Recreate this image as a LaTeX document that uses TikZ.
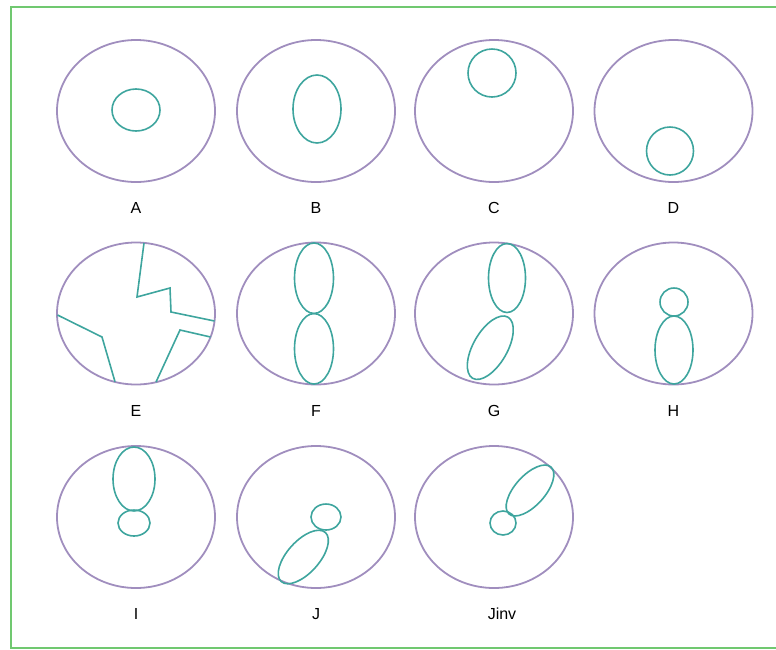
\documentclass[tikz,border=0pt]{standalone}
\usepackage{fontspec}
\setmainfont{Liberation Sans}
\usepackage{xcolor}
\usepackage{tikz}
\usetikzlibrary{shapes.geometric, positioning, calc}
\definecolor{FramePurple}{RGB}{160, 142, 190}
\definecolor{CellTeal}{RGB}{62, 165, 158}
\definecolor{FrameGreen}{RGB}{112, 200, 112}

\tikzset{
  outer/.style={ellipse, draw=FramePurple, line width=1.8pt,
    minimum width=158pt, minimum height=142pt, inner sep=0pt},
  cell/.style={ellipse, draw=CellTeal, line width=1.6pt, inner sep=0pt},
  crack/.style={draw=CellTeal, line width=1.6pt, line join=miter},
  lbl/.style={font=\fontsize{16}{18}\selectfont, text height=11.5pt,
    text depth=0pt, inner sep=0pt}
}

\begin{document}
\begin{tikzpicture}[x=1pt, y=1pt]
    \useasboundingbox (0,0) rectangle (776,-649);
    \draw[FrameGreen, line width=2pt] (10.5,-6.5) rectangle (790,-648);

    % outer ovals
    \foreach \name/\x/\y in {A/136/111, B/316/111, C/494/111, D/673.5/111,
        E/136/313.5, F/316/313.5, G/494/313.5, H/673.5/313.5,
        I/136/517, J/316/517, Jinv/494/517}
      \node[outer] (\name) at (\x,-\y) {};

    % captions
    \foreach \name in {A, B, C, D, E, F, G, H, I, J}
      \node[lbl, below=19pt of \name] (lbl\name) {\name};
    \node[lbl, below=19pt of Jinv, xshift=8pt] (lblJinv) {Jinv};

    % single cells
    \node[cell, minimum width=48pt, minimum height=42pt] (A-cell) at ($(A)+(0,1)$) {};
    \node[cell, minimum width=48pt, minimum height=68pt] (B-cell) at ($(B)+(1,2)$) {};
    \node[cell, minimum width=48pt, minimum height=48pt] (C-cell) at ($(C)+(-2,38)$) {};
    \node[cell, minimum width=47pt, minimum height=48pt] (D-cell) at ($(D)+(-3.5,-40)$) {};

    % fragments
    \begin{scope}[shift={(E.center)}]
      \draw[crack] (8,70.5) -- (1,16.5) -- (34,25.5) -- (35,1.5) -- (78.5,-7.5);
      \draw[crack] (-78.5,-1.5) -- (-34,-23.5) -- (-21,-68.2);
      \draw[crack] (20,-68.6) -- (44,-16.5) -- (74.5,-23.5);
    \end{scope}

    % pairs
    \node[cell, minimum width=39pt, minimum height=70.5pt] (F-top) at ($(F)+(-2,35.3)$) {};
    \node[cell, minimum width=39pt, minimum height=70.5pt] (F-bot) at ($(F)+(-2,-35.3)$) {};
    \node[cell, minimum width=37pt, minimum height=69pt] (G-top) at ($(G)+(13,35.5)$) {};
    \node[cell, minimum width=70.6pt, minimum height=34pt, rotate=60] (G-bot) at ($(G)+(-3.7,-34.2)$) {};
    \node[cell, minimum width=28pt, minimum height=28pt] (H-head) at ($(H)+(0.5,11.5)$) {};
    \node[cell, minimum width=38pt, minimum height=68pt] (H-body) at ($(H)+(0.5,-36.5)$) {};
    \node[cell, minimum width=42pt, minimum height=64pt] (I-top) at ($(I)+(-2,38)$) {};
    \node[cell, minimum width=32pt, minimum height=26pt] (I-bot) at ($(I)+(-2,-6)$) {};
    \node[cell, minimum width=30pt, minimum height=26pt] (J-head) at ($(J)+(10,0)$) {};
    \node[cell, minimum width=66pt, minimum height=32pt, rotate=48] (J-body) at ($(J)+(-12.7,-40)$) {};
    \node[cell, minimum width=26pt, minimum height=24pt] (Jinv-head) at ($(Jinv)+(9,-6)$) {};
    \node[cell, minimum width=63pt, minimum height=30pt, rotate=48] (Jinv-body) at ($(Jinv)+(36,26.5)$) {};
\end{tikzpicture}
\end{document}
